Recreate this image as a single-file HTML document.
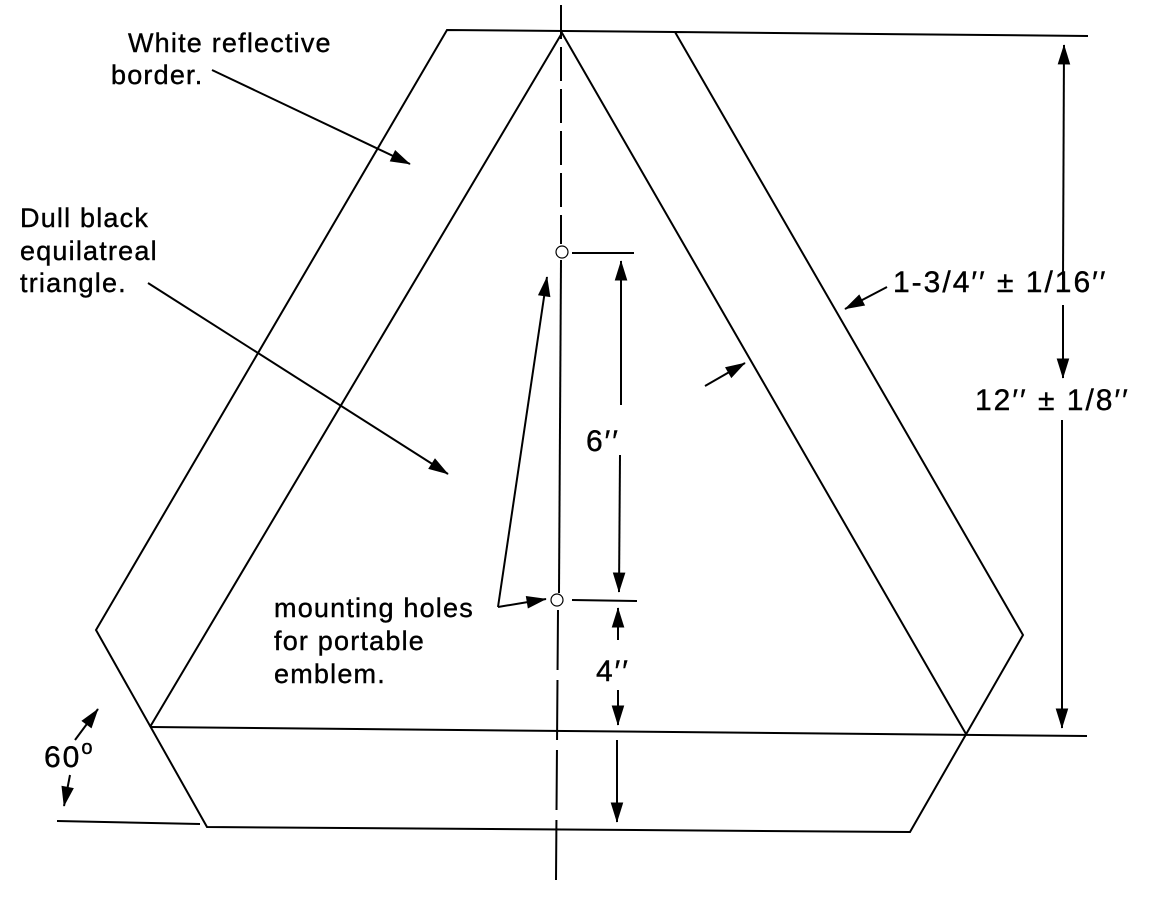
<!DOCTYPE html>
<html><head><meta charset="utf-8"><style>
html,body{margin:0;padding:0;background:#fff;}
svg{display:block;}
text{font-family:"Liberation Sans",Arial,sans-serif;fill:#000;stroke:#000;stroke-width:0.4;}
</style></head><body>
<svg width="1162" height="900" viewBox="0 0 1162 900" xmlns="http://www.w3.org/2000/svg">
<defs>
<marker id="a" viewBox="0 0 10 10" refX="9" refY="5" markerWidth="9" markerHeight="9" markerUnits="userSpaceOnUse" orient="auto" overflow="visible">
<path d="M-6,0 L10,5 L-6,10 z" fill="#000" transform="scale(1.4) translate(-3,-1.4)"/>
</marker>
</defs>
<g stroke="#000" stroke-width="2" fill="none">
<polyline points="1088,36 675,32 447,30 96,630 207,827 910,832 1023,635 675,32"/>
<polyline points="150,727 562,33 966,734"/>
<line x1="150" y1="727" x2="1087" y2="736"/>
<line x1="57" y1="821" x2="200" y2="824"/>
<line x1="561" y1="5" x2="561" y2="244" stroke-dasharray="34 8"/>
<line x1="561" y1="260" x2="559" y2="593"/>
<line x1="558" y1="610" x2="556" y2="880" stroke-dasharray="60 10"/>
<line x1="572" y1="253" x2="634" y2="253"/>
<line x1="572" y1="600" x2="637" y2="601"/>
</g>
<circle cx="562" cy="252" r="6" fill="#fff" stroke="#000" stroke-width="1.2"/>
<circle cx="557" cy="600" r="6" fill="#fff" stroke="#000" stroke-width="1.2"/>
<g stroke="#000" stroke-width="2" fill="none" marker-end="url(#a)">
<line x1="212" y1="70" x2="410" y2="164"/>
<line x1="148" y1="283" x2="448" y2="474"/>
<line x1="498" y1="607" x2="547" y2="277"/>
<line x1="498" y1="607" x2="546" y2="599"/>
<line x1="705" y1="386" x2="745" y2="363"/>
<line x1="887" y1="287" x2="845" y2="309"/>
<line x1="75" y1="740" x2="98" y2="709"/>
<line x1="70" y1="775" x2="64" y2="806"/>
<line x1="621" y1="405" x2="621" y2="261"/>
<line x1="620" y1="455" x2="619" y2="592"/>
<line x1="618" y1="640" x2="618" y2="608"/>
<line x1="618" y1="690" x2="618" y2="725"/>
<line x1="617" y1="740" x2="617" y2="822"/>
<line x1="1063" y1="280" x2="1064" y2="45"/>
<line x1="1063" y1="305" x2="1063" y2="378"/>
<line x1="1062" y1="420" x2="1062" y2="728"/>
</g>
<g font-size="27" letter-spacing="1.2">
<text x="128" y="52">White reflective</text>
<text x="111" y="84">border.</text>
<text x="20" y="227">Dull black</text>
<text x="20" y="260">equilatreal</text>
<text x="20" y="292">triangle.</text>
<text x="274" y="617">mounting holes</text>
<text x="274" y="650">for portable</text>
<text x="274" y="683">emblem.</text>
</g>
<g font-size="30" letter-spacing="2">
<text x="586" y="451">6′′</text>
<text x="596" y="681">4′′</text>
<text x="44" y="767">60<tspan font-size="20" dy="-13">o</tspan></text>
<text x="893" y="292">1-3/4′′ ± 1/16′′</text>
<text x="975" y="410">12′′ ± 1/8′′</text>
</g>
</svg>
</body></html>
